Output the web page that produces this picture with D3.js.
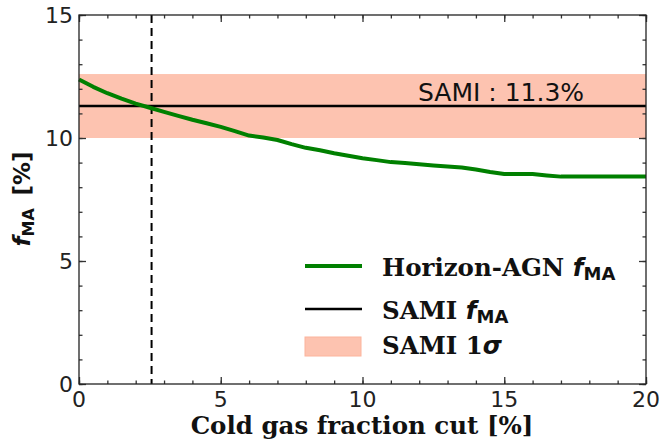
<!DOCTYPE html>
<html><head><meta charset="utf-8">
<script src="https://cdn.jsdelivr.net/npm/d3@7"></script>
<style>body{margin:0;background:#fff}</style>
</head><body>
<svg id="c" width="660" height="445"></svg>
<script>
const cutX = [0,0.5,1,1.5,2,2.5,3,3.5,4,4.5,5,5.5,6,6.5,7,7.5,8,8.5,9,9.5,10,10.5,11,11.5,12,12.5,13,13.5,14,14.5,15,15.5,16,16.5,17,17.5,18,18.5,19,19.5,20];
const horizonFMA = [12.38,12.08,11.82,11.6,11.4,11.23,11.06,10.9,10.74,10.6,10.45,10.28,10.1,10.02,9.92,9.75,9.6,9.5,9.38,9.28,9.18,9.1,9.02,8.98,8.93,8.88,8.84,8.8,8.72,8.62,8.54,8.54,8.54,8.48,8.43,8.43,8.43,8.43,8.43,8.43,8.43];
const samiFMA = 11.3;
const samiBand = [10.0, 12.6];
const crossCut = 2.56;
const xTicks = [0,5,10,15,20];
const yTicks = [0,5,10,15];

const svg = d3.select('#c');
const L=79, R=646, T=15, B=384;
const x = d3.scaleLinear().domain([0,20]).range([L,R]);
const y = d3.scaleLinear().domain([0,15]).range([B,T]);

// band
svg.append('rect').attr('x',x(0)).attr('width',x(20)-x(0))
  .attr('y',y(samiBand[1])).attr('height',y(samiBand[0])-y(samiBand[1]))
  .attr('fill','#fdc3b0');
// SAMI line
svg.append('line').attr('x1',x(0)).attr('x2',x(20)).attr('y1',y(samiFMA)).attr('y2',y(samiFMA))
  .attr('stroke','#000').attr('stroke-width',2.5);
// dashed
svg.append('line').attr('x1',x(crossCut)).attr('x2',x(crossCut)).attr('y1',y(15)).attr('y2',y(0))
  .attr('stroke','#000').attr('stroke-width',2).attr('stroke-dasharray','8,5');
// green curve
const line = d3.line().x((d,i)=>x(cutX[i])).y(d=>y(d));
svg.append('path').datum(horizonFMA).attr('d',line).attr('fill','none')
  .attr('stroke','#008000').attr('stroke-width',4).attr('stroke-linejoin','round');

svg.append('text').attr('x',418).attr('y',101).attr('font-family','DejaVu Sans').attr('font-size',25)
  .attr('fill','#111').text('SAMI : ' + samiFMA + '%');

// axes
function styleAxis(g){ g.select('.domain').remove(); g.selectAll('line').attr('stroke','#333').attr('stroke-width',1.3); g.selectAll('text').remove(); }
const minorX = d3.range(0,21,1), minorY = d3.range(0,16,1);
svg.append('g').attr('transform',`translate(0,${B})`).call(d3.axisTop(x).tickValues(minorX).tickSize(3.5)).call(styleAxis);
svg.append('g').attr('transform',`translate(0,${B})`).call(d3.axisTop(x).tickValues(xTicks).tickSize(7)).call(styleAxis);
svg.append('g').attr('transform',`translate(0,${T})`).call(d3.axisBottom(x).tickValues(minorX).tickSize(3.5)).call(styleAxis);
svg.append('g').attr('transform',`translate(0,${T})`).call(d3.axisBottom(x).tickValues(xTicks).tickSize(7)).call(styleAxis);
svg.append('g').attr('transform',`translate(${L},0)`).call(d3.axisRight(y).tickValues(minorY).tickSize(3.5)).call(styleAxis);
svg.append('g').attr('transform',`translate(${L},0)`).call(d3.axisRight(y).tickValues(yTicks).tickSize(7)).call(styleAxis);
svg.append('g').attr('transform',`translate(${R},0)`).call(d3.axisLeft(y).tickValues(minorY).tickSize(3.5)).call(styleAxis);
svg.append('g').attr('transform',`translate(${R},0)`).call(d3.axisLeft(y).tickValues(yTicks).tickSize(7)).call(styleAxis);

svg.append('rect').attr('x',L).attr('y',T).attr('width',R-L).attr('height',B-T)
  .attr('fill','none').attr('stroke','#222').attr('stroke-width',1.3);

// tick labels
svg.append('g').selectAll('text').data(xTicks).join('text')
  .attr('x',d=>x(d)).attr('y',407).attr('text-anchor','middle')
  .attr('font-family','DejaVu Sans').attr('font-size',22).attr('fill','#222').text(d=>d);
svg.append('g').selectAll('text').data(yTicks).join('text')
  .attr('x',73).attr('y',d=>y(d)+8).attr('text-anchor','end')
  .attr('font-family','DejaVu Sans').attr('font-size',22).attr('fill','#222').text(d=>d);

// axis titles
svg.append('text').attr('x',362).attr('y',434).attr('text-anchor','middle')
  .attr('font-family','DejaVu Serif').attr('font-weight','bold').attr('font-size',24.5).attr('fill','#111')
  .text('Cold gas fraction cut [%]');
const yl = svg.append('text').attr('transform','translate(30,199) rotate(-90)').attr('text-anchor','middle')
  .attr('font-family','DejaVu Sans').attr('font-weight','bold').attr('font-size',23).attr('fill','#111');
yl.append('tspan').attr('font-style','italic').text('f');
yl.append('tspan').attr('font-size',16).attr('dy',4).text('MA');
yl.append('tspan').attr('dy',-4).text('\u2009 [%]');

// legend
const lg = svg.append('g');
lg.append('line').attr('x1',305).attr('x2',362).attr('y1',266).attr('y2',266).attr('stroke','#008000').attr('stroke-width',4);
lg.append('line').attr('x1',305).attr('x2',362).attr('y1',309).attr('y2',309).attr('stroke','#000').attr('stroke-width',2.5);
lg.append('rect').attr('x',305).attr('y',337).attr('width',56).attr('height',19).attr('fill','#fdc3b0').attr('stroke','#fcb49c');
function legText(yy, main, sub){
  const t = lg.append('text').attr('x',382).attr('y',yy).attr('font-family','DejaVu Serif').attr('font-weight','bold')
    .attr('font-size',24.5).attr('fill','#111');
  t.append('tspan').text(main);
  if(sub){
    t.append('tspan').attr('font-family','DejaVu Sans').attr('font-style','italic').text('f');
    t.append('tspan').attr('font-family','DejaVu Sans').attr('font-size',18).attr('dy',4).text('MA');
  }
  return t;
}
legText(276,'Horizon-AGN ',true);
legText(319,'SAMI ',true);
const t3 = legText(354,'SAMI 1',false);
t3.append('tspan').attr('font-style','italic').attr('font-family','DejaVu Sans').text('\u03c3');
</script>
</body></html>
